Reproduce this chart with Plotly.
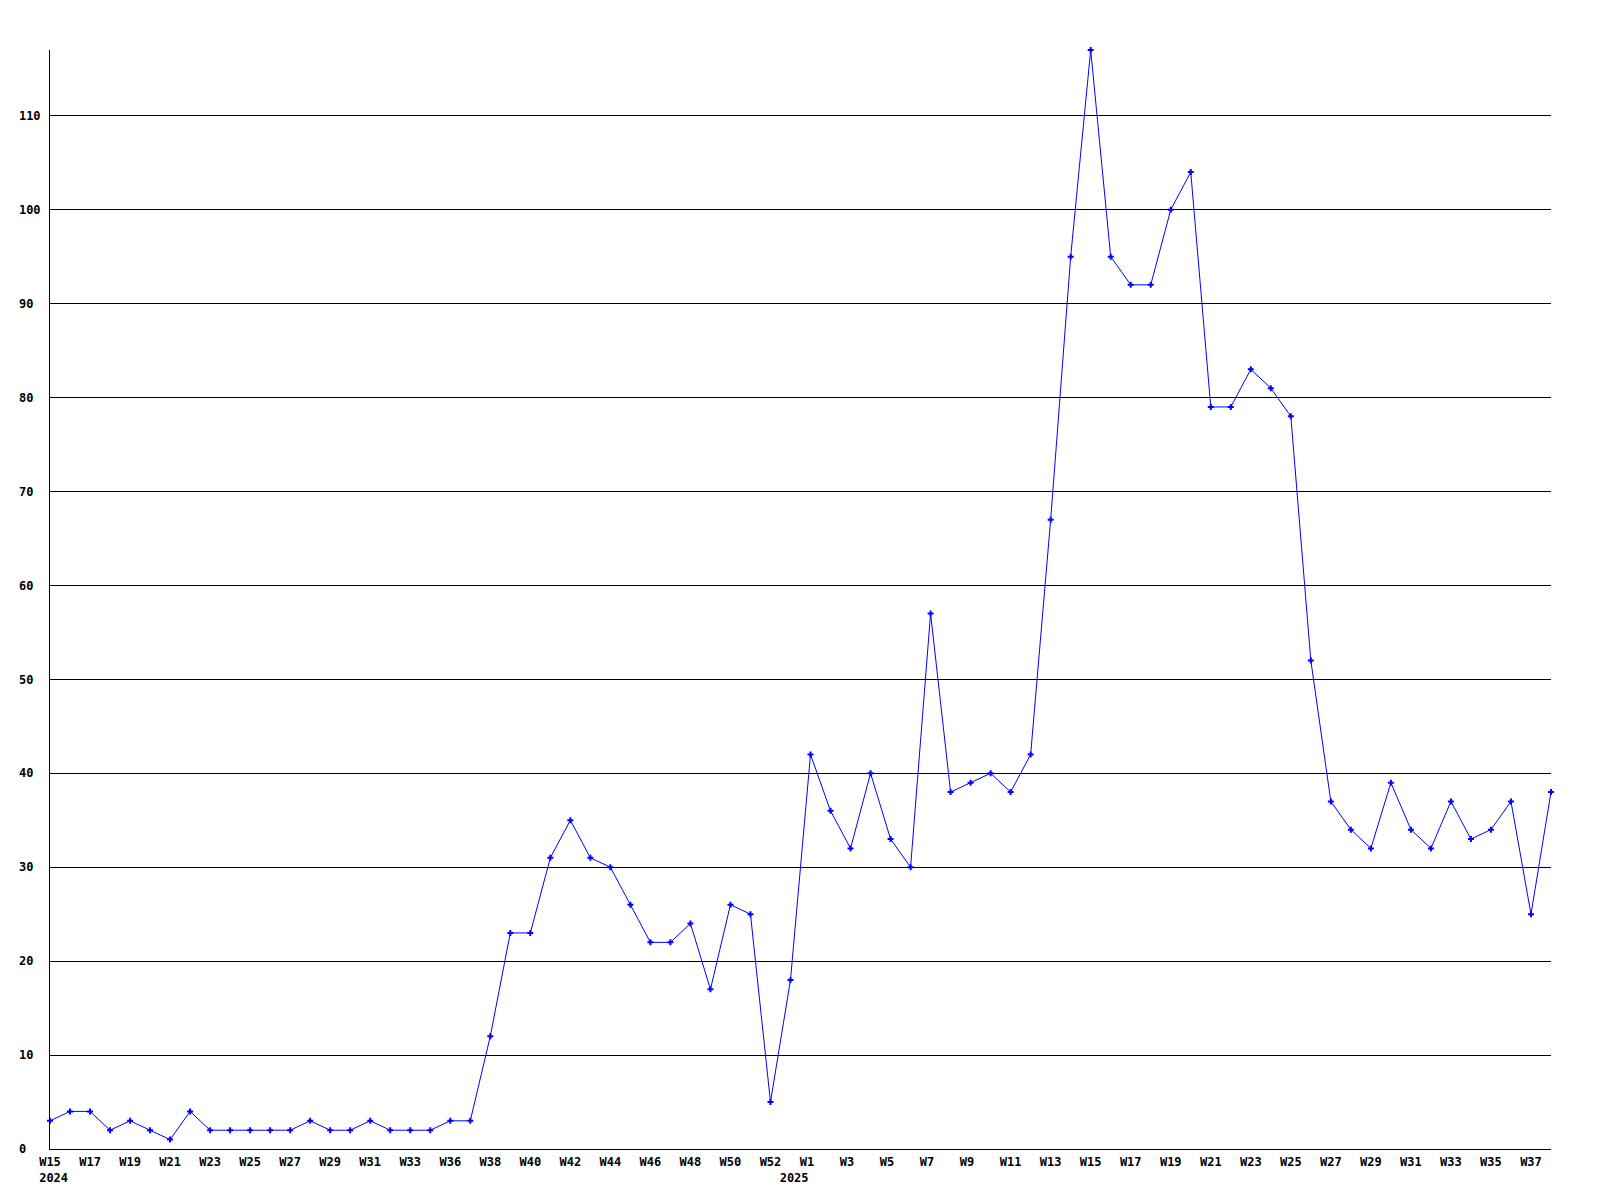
import plotly.graph_objects as go

weeks = (["2024-W%d" % w for w in range(15, 35)] + ["2024-W%d" % w for w in range(36, 53)]
         + ["2024-W53"] + ["2025-W%d" % w for w in range(1, 39)])

counts = [3, 4, 4, 2, 3, 2, 1, 4, 2, 2, 2, 2, 2, 3, 2, 2, 3, 2, 2, 2,
          3, 3, 12, 23, 23, 31, 35, 31, 30, 26, 22, 22, 24, 17, 26, 25, 5,
          18,
          42, 36, 32, 40, 33, 30, 57, 38, 39, 40, 38, 42, 67, 95, 117, 95, 92, 92,
          100, 104, 79, 79, 83, 81, 78, 52, 37, 34, 32, 39, 34, 32, 37, 33, 34, 37,
          25, 38]

x_labels = ["W15", "W17", "W19", "W21", "W23", "W25", "W27", "W29", "W31", "W33",
            "W36", "W38", "W40", "W42", "W44", "W46", "W48", "W50", "W52",
            "W1", "W3", "W5", "W7", "W9", "W11", "W13", "W15", "W17", "W19", "W21",
            "W23", "W25", "W27", "W29", "W31", "W33", "W35", "W37"]
label_weeks = (["2024-W%d" % w for w in (15, 17, 19, 21, 23, 25, 27, 29, 31, 33, 36, 38, 40, 42, 44, 46, 48, 50, 52)]
               + ["2025-W%d" % w for w in (1, 3, 5, 7, 9, 11, 13, 15, 17, 19, 21, 23, 25, 27, 29, 31, 33, 35, 37)])
year_labels = ["2024", "2025"]
year_weeks = ["2024-W15", "2024-W53"]

y_ticks = list(range(0, 111, 10))

NB = "\u00a0"
xs = list(range(len(weeks)))
idx = {w: i for i, w in enumerate(weeks)}

tickvals = []
ticktext = []
for lab, wk in zip(x_labels, label_weeks):
    i = idx[wk]
    t = lab + NB * (3 - len(lab))
    if wk == year_weeks[0]:
        t = t + "<br>" + NB + year_labels[0]
    tickvals.append(i)
    ticktext.append(t)
tickvals.append(idx[year_weeks[1]])
ticktext.append(NB + "<br>" + NB + year_labels[1])

ytext = [str(v) + NB * (3 - len(str(v))) for v in y_ticks]

fig = go.Figure()
fig.add_trace(go.Scatter(
    x=xs, y=counts, mode="lines+markers",
    line=dict(color="#0000ff", width=1),
    marker=dict(symbol="cross", size=5, color="#0000ff"),
    cliponaxis=False,
    hoverinfo="skip",
))

font = dict(family="DejaVu Sans Mono", size=12, color="black", weight="bold")

fig.update_layout(
    width=1600, height=1200,
    margin=dict(l=42, r=57, t=42, b=59, autoexpand=False),
    paper_bgcolor="white", plot_bgcolor="white",
    showlegend=False,
    font=font,
)
fig.update_xaxes(
    range=[0, len(weeks) - 1],
    tickmode="array", tickvals=tickvals, ticktext=ticktext,
    showgrid=False, zeroline=False,
    showline=True, linecolor="black", linewidth=1,
    ticks="", tickfont=font, tickangle=0,
    ticklabelstandoff=2, automargin=False,
)
fig.update_yaxes(
    range=[0, 117],
    tickmode="array", tickvals=y_ticks, ticktext=ytext,
    showgrid=True, gridcolor="black", gridwidth=1,
    zeroline=False,
    showline=True, linecolor="black", linewidth=1,
    ticks="", tickfont=font,
    ticklabelstandoff=6, automargin=False,
)

fig.write_html("out.html")
